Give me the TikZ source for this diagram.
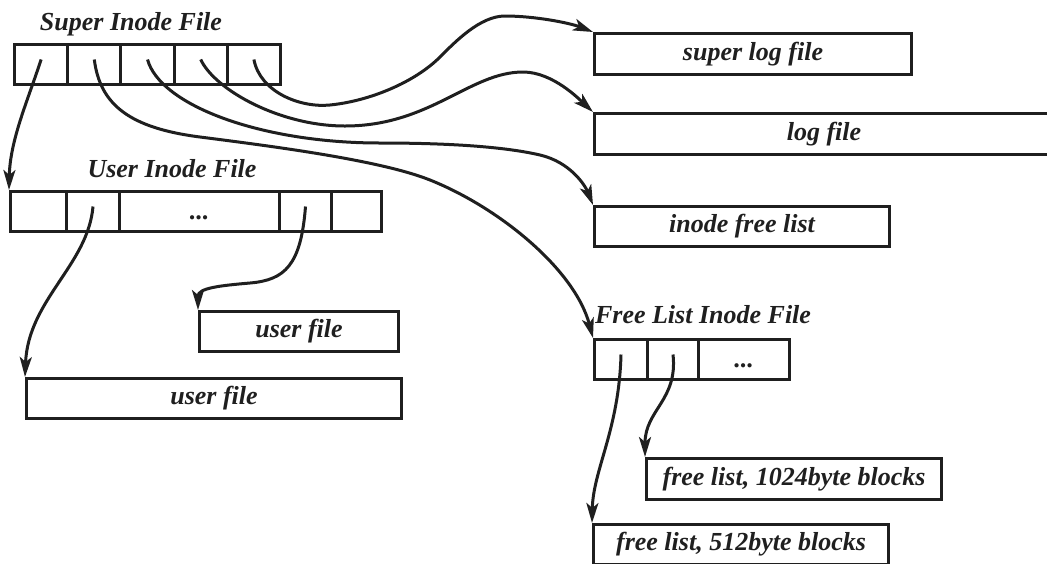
\documentclass[tikz,border=0pt]{standalone}
\usepackage{fontspec}
\setmainfont{Liberation Serif}
\usetikzlibrary{arrows.meta}
\begin{document}
\begin{tikzpicture}[x=0.5pt,y=-0.5pt,
  lbl/.style={font=\fontsize{13}{15}\selectfont\bfseries\itshape, text=black!88},
  box/.style={lbl, draw=black!88, line width=1.5pt, anchor=north west, inner sep=0pt,
    minimum height=20pt, text height=9pt, text depth=3pt},
  cellbox/.style={box, text height=10pt, text depth=2pt},
  ttl/.style={lbl, anchor=base, inner sep=0pt},
  link/.style={draw=black!88, line width=1.5pt, -{Stealth[length=10pt,width=6pt,inset=2.5pt]}}]
\useasboundingbox (0,0) rectangle (1047,563);
\clip (0,0) rectangle (1047,563);

% ---- Super Inode File
\node[ttl] (suptitle) at (131,30) {Super Inode File};
\node[cellbox, minimum width=26.6pt] (s1) at (13,43) {};
\node[cellbox, minimum width=26.6pt] (s2) at (66.2,43) {};
\node[cellbox, minimum width=26.6pt] (s3) at (119.4,43) {};
\node[cellbox, minimum width=26.6pt] (s4) at (172.6,43) {};
\node[cellbox, minimum width=26.6pt] (s5) at (225.8,43) {};

% ---- User Inode File
\node[ttl] (usrtitle) at (172,177) {User Inode File};
\node[cellbox, minimum width=28pt] (u1) at (9,190) {};
\node[cellbox, minimum width=26.5pt] (u2) at (65,190) {};
\node[cellbox, minimum width=80pt] (u3) at (118,190) {...\hspace{29pt}};
\node[cellbox, minimum width=26pt] (u4) at (278,190) {};
\node[cellbox, minimum width=25pt] (u5) at (330,190) {};

% ---- Free List Inode File
\node[ttl] (fltitle) at (703,323) {Free List Inode File};
\node[cellbox, minimum width=26.5pt] (f1) at (593,338) {};
\node[cellbox, minimum width=25.5pt] (f2) at (646,338) {};
\node[cellbox, minimum width=45.5pt] (f3) at (697,338) {...\hspace{21pt}};

% ---- files
\node[box, minimum width=158.5pt, minimum height=20.5pt] (superlog) at (593,32) {super log file};
\node[box, minimum width=229.5pt, minimum height=20.5pt] (logfile) at (593,112) {log file\hspace{5.5pt}};
\node[box, minimum width=147.5pt] (inodefree) at (593,205) {inode free list};
\node[box, minimum width=99.5pt] (upperfile) at (198,310) {user file};
\node[box, minimum width=187.5pt] (lowerfile) at (25,377) {user file};
\node[box, minimum width=147.5pt, minimum height=20.5pt] (file1024) at (645,457) {free list, 1024byte blocks};
\node[box, minimum width=147.5pt] (file512) at (592,523) {free list, 512byte blocks};

% ---- connectors from Super Inode File
\draw[link] ([yshift=2.5pt]s1.center) .. controls (28,100) and (10,140) .. (u1.north west);
\draw[link] ([yshift=2.5pt]s5.center) .. controls (260,92) and (300,108) .. (330,105)
  .. controls (370,101) and (415,82) .. (440,57)
  .. controls (455,42) and (480,16) .. (505,16)
  .. controls (535,16) and (570,23) .. (superlog.north west);
\draw[link] ([yshift=2.5pt]s4.center) .. controls (215,90) and (280,126) .. (345,126)
  .. controls (430,126) and (470,72) .. (523,72)
  .. controls (553,72) and (580,100) .. (logfile.north west);
\draw[link] ([yshift=2.5pt]s3.center) .. controls (160,105) and (260,143) .. (380,143)
  .. controls (460,143) and (510,148) .. (540,155)
  .. controls (570,162) and (585,185) .. (inodefree.north west);
\draw[link] ([yshift=2.5pt]s2.center) .. controls (100,105) and (130,128) .. (200,137)
  .. controls (270,146) and (380,160) .. (430,180)
  .. controls (500,208) and (575,270) .. (f1.north west);

% ---- connectors from User Inode File
\draw[link] ([yshift=2.5pt]u2.center) .. controls (88,265) and (28,300) .. (lowerfile.north west);
\draw[link] ([yshift=2.5pt]u4.center) .. controls (301,265) and (285,280) .. (250,283)
  .. controls (220,285.6) and (198,288) .. (upperfile.north west);

% ---- connectors from Free List Inode File
\draw[link] ([yshift=2.5pt]f1.center) .. controls (619,430) and (593,470) .. (file512.north west);
\draw[link] ([yshift=2.5pt]f2.center) .. controls (678,400) and (645,410) .. (file1024.north west);
\end{tikzpicture}
\end{document}
